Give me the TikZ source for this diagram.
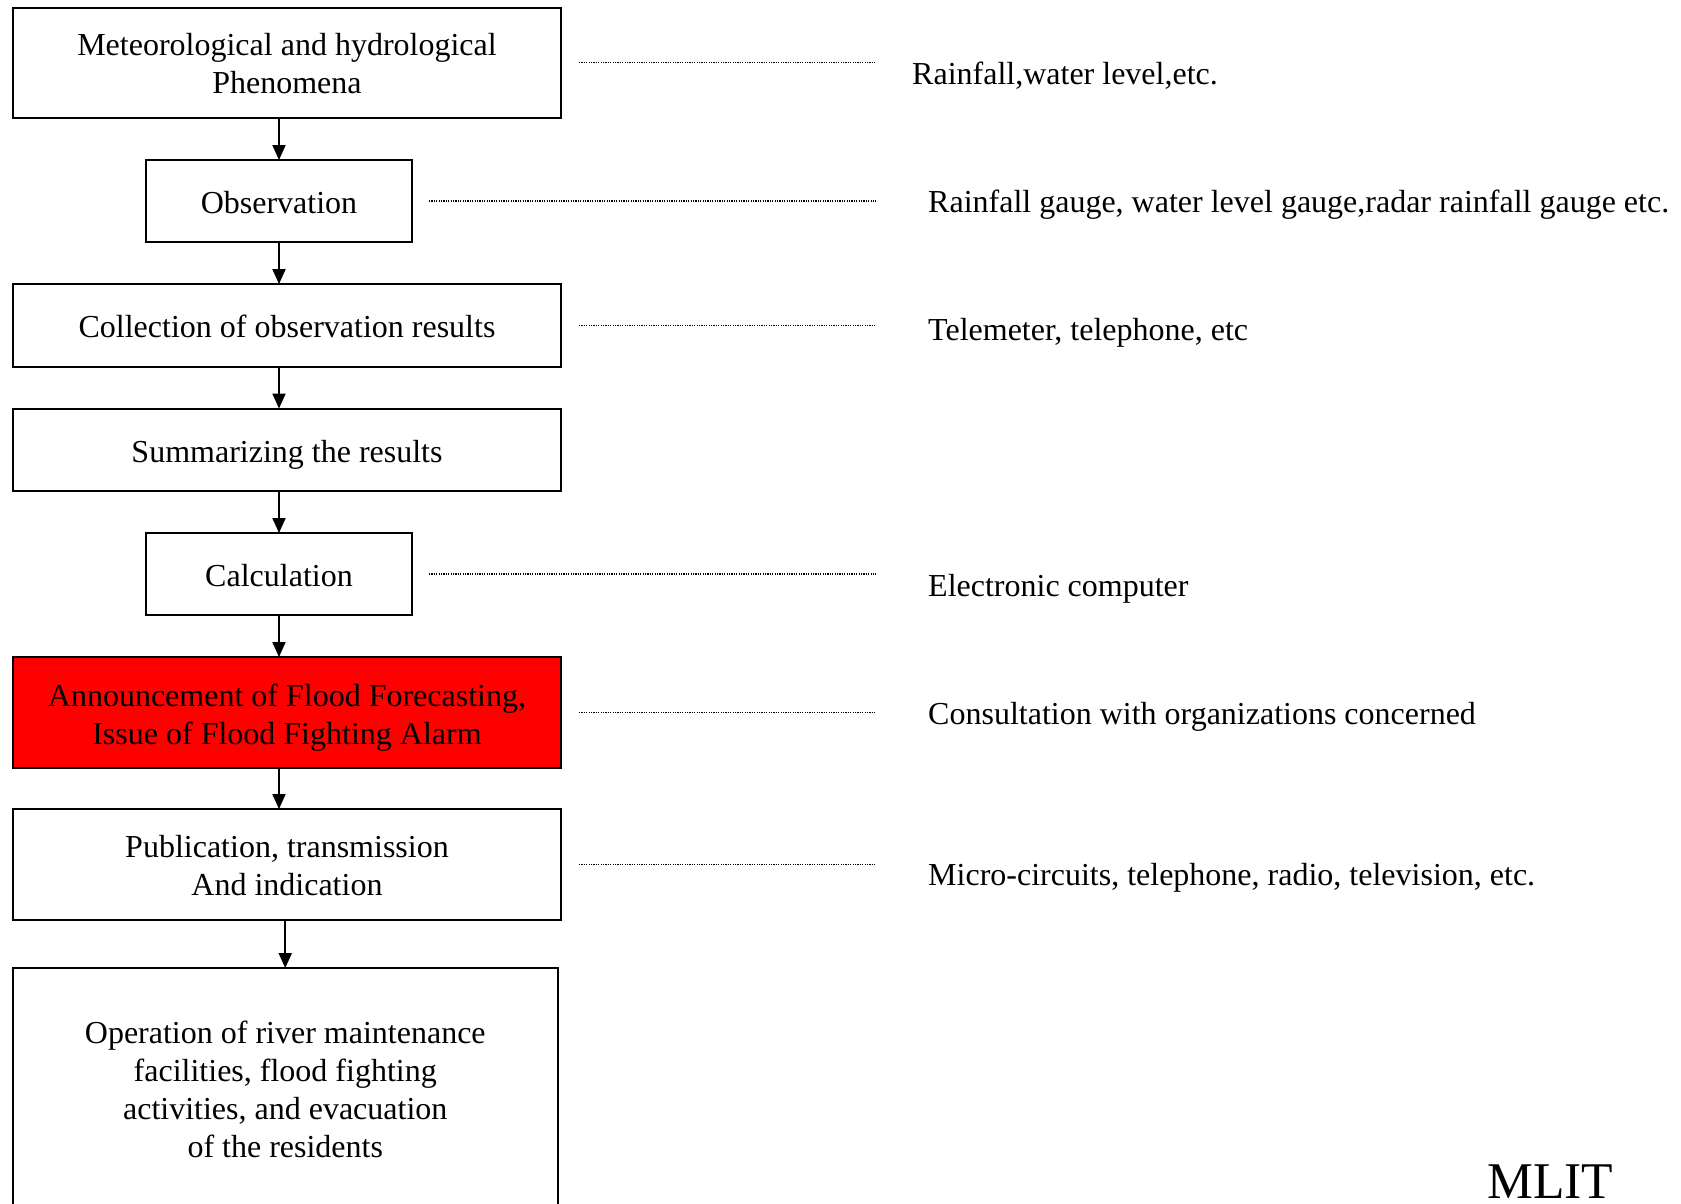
\documentclass[tikz,border=0pt]{standalone}
\usepackage{fontspec}
\setmainfont{Liberation Serif}
\usetikzlibrary{arrows.meta}
\begin{document}
\begin{tikzpicture}[x=1pt,y=-1pt,
  every node/.style={font=\fontsize{32}{38}\selectfont},
  flowbox/.style={draw, line width=2pt, inner sep=0pt, outer sep=0pt, anchor=north west},
  wide/.style={flowbox, minimum width=548pt},
  narrow/.style={flowbox, minimum width=266pt},
  boxtext/.style={align=center, inner sep=0pt, anchor=base},
  arr/.style={line width=2pt, -{Triangle[length=15pt,width=13pt]}},
  dotline/.style={line width=1.2pt, dash pattern=on 1.2pt off 1.2pt},
  note/.style={anchor=base west, inner sep=0pt}]
\useasboundingbox (0,0) rectangle (1681,1203);
\clip (0,0) rectangle (1681,1203);

% process chain: frames
\node[wide, minimum height=110.5pt] (phen) at (13,7.5) {};
\node[narrow, minimum height=82pt] (obs) at (146,160) {};
\node[wide, minimum height=83pt] (coll) at (13,284) {};
\node[wide, minimum height=82.5pt] (summ) at (13,408.5) {};
\node[narrow, minimum height=82pt] (calc) at (146,533) {};
\node[wide, minimum height=111pt, fill=red] (ann) at (13,657) {};
\node[wide, minimum height=111pt] (pub) at (13,809) {};
\node[flowbox, minimum width=544.5pt, minimum height=242pt] (oper) at (13,968) {};

% process chain: texts (base anchor = baseline of the last line)
\node[boxtext] (phen-t) at ([yshift=-31pt]phen.center) {Meteorological and hydrological\\Phenomena};
\node[boxtext] (obs-t)  at ([yshift=-12pt]obs.center) {Observation};
\node[boxtext] (coll-t) at ([yshift=-12pt]coll.center) {Collection of observation results};
\node[boxtext] (summ-t) at ([yshift=-12.5pt]summ.center) {Summarizing the results};
\node[boxtext] (calc-t) at ([yshift=-12pt]calc.center) {Calculation};
\node[boxtext] (ann-t)  at ([yshift=-31.5pt]ann.center) {Announcement of Flood Forecasting,\\Issue of Flood Fighting Alarm};
\node[boxtext] (pub-t)  at ([yshift=-30.8pt]pub.center) {Publication, transmission\\And indication};
\node[boxtext] (oper-t) at ([yshift=-68.5pt]oper.center) {Operation of river maintenance\\facilities, flood fighting\\activities, and evacuation\\of the residents};

% arrows between steps
\draw[arr] (phen.south -| obs.north) -- (obs.north);
\draw[arr] (obs.south) -- (coll.north -| obs.south);
\draw[arr] (coll.south -| obs.south) -- (summ.north -| obs.south);
\draw[arr] (summ.south -| calc.north) -- (calc.north);
\draw[arr] (calc.south) -- (ann.north -| calc.south);
\draw[arr] (ann.south -| calc.south) -- (pub.north -| calc.south);
\draw[arr] (pub.south -| oper.north) -- (oper.north);

% dotted leaders to the means used at each step
\coordinate (dotend) at (876,0);
\draw[dotline] ([xshift=18pt]phen.east) -- (phen.east -| dotend);
\draw[dotline] ([xshift=17pt]obs.east) -- (obs.east -| dotend);
\draw[dotline] ([xshift=18pt]coll.east) -- (coll.east -| dotend);
\draw[dotline] ([xshift=17pt]calc.east) -- (calc.east -| dotend);
\draw[dotline] ([xshift=18pt]ann.east) -- (ann.east -| dotend);
\draw[dotline] ([xshift=18pt]pub.east) -- (pub.east -| dotend);

% means
\node[note] (l1) at (912,84) {Rainfall,water level,etc.};
\node[note] (l2) at (928,212) {Rainfall gauge, water level gauge,radar rainfall gauge etc.};
\node[note] (l3) at (928,340) {Telemeter, telephone, etc};
\node[note] (l5) at (928,596.5) {Electronic computer};
\node[note] (l6) at (928,724) {Consultation with organizations concerned};
\node[note] (l7) at (928,885) {Micro-circuits, telephone, radio, television, etc.};

\node[anchor=base west, inner sep=0pt, font=\fontsize{51.5}{60}\selectfont] (mlit) at (1487,1198) {MLIT};
\end{tikzpicture}
\end{document}
